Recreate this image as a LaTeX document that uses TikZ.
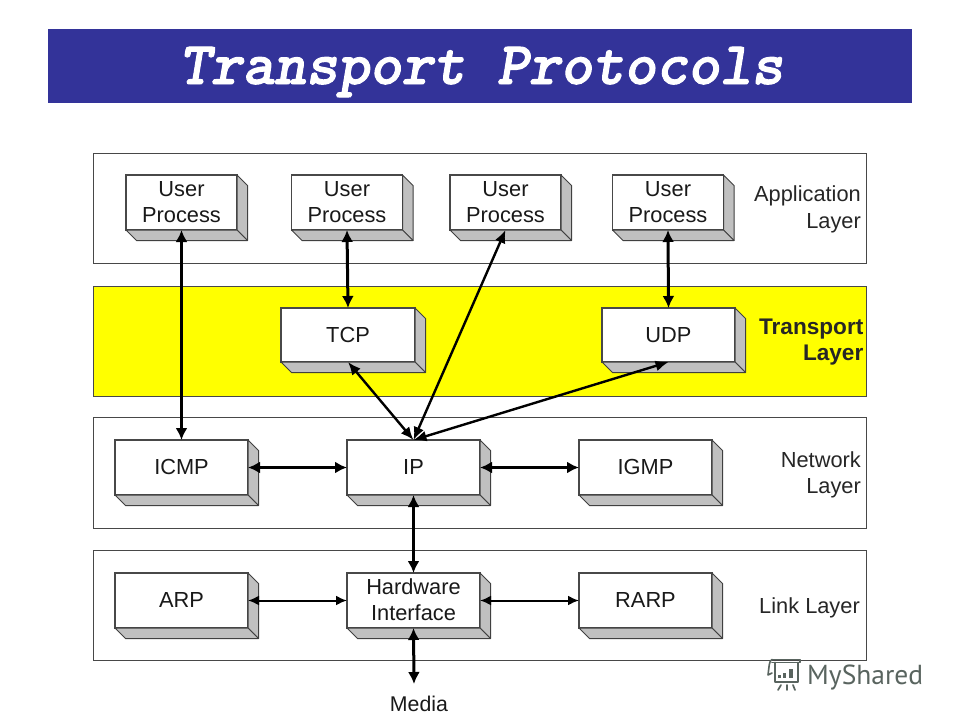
\documentclass[tikz,border=0pt]{standalone}
\usepackage{fontspec}
\setmainfont{Liberation Sans}
\newfontfamily\titlefont[FakeBold=1.6]{Latin Modern Mono Light}
\newfontfamily\brandfont{PT Sans}
\usetikzlibrary{arrows.meta}
\definecolor{titleblue}{HTML}{333399}
\definecolor{edgegray}{HTML}{484848}
\definecolor{sidegray}{HTML}{C0C0C0}
\definecolor{brandgray}{HTML}{59645F}
\definecolor{bandyellow}{HTML}{FFFF00}
\newcommand{\lifted}[1]{\raisebox{1pt}{#1}}
\tikzset{
  layerband/.style={draw=edgegray,line width=0.9pt,fill=white},
  frontface/.style={draw=edgegray,line width=1.2pt,fill=white,inner sep=0pt,outer sep=0pt,
    align=center,font=\fontsize{21.8}{26}\selectfont,text=black!90},
  sideface/.style={draw=black!75,line width=1pt,fill=sidegray,line join=round},
  layerlabel/.style={align=right,anchor=east,inner sep=0pt,font=\fontsize{21.8}{26.5}\selectfont,text=black!85},
  heavylink/.style={line width=3pt,black,{Latex[length=12pt,width=12pt]}-{Latex[length=12pt,width=12pt]}},
  midlink/.style={line width=2.4pt,black,{Latex[length=13pt,width=11pt]}-{Latex[length=13pt,width=11pt]}},
  lightlink/.style={line width=2pt,black,{Latex[length=11pt,width=10pt]}-{Latex[length=11pt,width=10pt]}},
}
% A block with raised right and bottom faces: name, centre x, centre y, width, height, text
\newcommand{\raisedblock}[6]{%
  \node[frontface,minimum width=#4pt,minimum height=#5pt] (#1) at (#2,#3) {#6};
  \draw[sideface] (#1.north east) -- ++(10.5,10.5) -- ([shift={(10.5,10.5)}]#1.south east) -- (#1.south east) -- cycle;
  \draw[sideface] (#1.south west) -- ++(10.5,10.5) -- ([shift={(10.5,10.5)}]#1.south east) -- (#1.south east) -- cycle;
}
\begin{document}
\begin{tikzpicture}[x=1pt,y=-1pt]
\useasboundingbox (0,0) rectangle (960,720);
\fill[white] (0,0) rectangle (960,720);

% Title bar
\fill[titleblue] (48,29) rectangle (912,103);
\node[anchor=base,inner sep=0pt,text=white,font=\titlefont\bfseries\slshape\fontsize{60.6}{66}\selectfont] (title) at (481,84) {Transport Protocols};

% Layer bands
\draw[layerband] (93,153) rectangle (866,263);
\draw[layerband,fill=bandyellow] (93,286) rectangle (866,396);
\draw[layerband] (93,417.5) rectangle (866,528);
\draw[layerband] (93,550) rectangle (866,660);

% Layer names
\node[layerlabel] (applabel) at (861,209.5) {Application\\Layer};
\node[layerlabel,font=\bfseries\fontsize{22.6}{26}\selectfont] (translabel) at (863.5,342) {Transport\\Layer};
\node[layerlabel] (netlabel) at (861,475) {Network\\Layer};
\node[layerlabel] (linklabel) at (860,607.5) {Link Layer};

% Application layer
\raisedblock{upa}{181.5}{202.5}{111}{55}{User\\Process}
\raisedblock{upb}{347}{202.5}{111}{55}{User\\Process}
\raisedblock{upc}{505.5}{202.5}{111}{55}{User\\Process}
\raisedblock{upd}{668}{202.5}{111}{55}{User\\Process}

% Transport layer
\raisedblock{tcp}{348}{335}{134}{54}{\lifted{TCP}}
\raisedblock{udp}{668.5}{335}{133}{54}{\lifted{UDP}}

% Network layer
\raisedblock{icmp}{181.5}{467.5}{133}{55}{\lifted{ICMP}}
\raisedblock{ip}{413.5}{467.5}{133}{55}{\lifted{IP}}
\raisedblock{igmp}{645.5}{467.5}{133}{55}{\lifted{IGMP}}

% Link layer
\raisedblock{arp}{181.5}{600.5}{133}{55}{\lifted{ARP}}
\raisedblock{hw}{413.5}{600.5}{133}{55}{\lifted{Hardware}\\\lifted{Interface}}
\raisedblock{rarp}{645.5}{600.5}{133}{55}{\lifted{RARP}}

% Media end point
\node[inner sep=0pt,font=\fontsize{21.3}{24}\selectfont,text=black!90] (media) at (419,704) {Media};
\coordinate (mediatip) at (414,684);

% Connectors
\draw[heavylink] (upa.south) -- (icmp.north);
\draw[heavylink] (upb.south) -- (tcp.north);
\draw[heavylink] (upd.south) -- (udp.north);
\draw[midlink] (upc.south) -- (ip.north);
\draw[midlink] (tcp.south) -- (ip.north);
\draw[midlink] (udp.south) -- (ip.north);
\draw[heavylink] (icmp.east) -- (ip.west);
\draw[heavylink] (ip.east) -- (igmp.west);
\draw[heavylink] (ip.south) -- (hw.north);
\draw[lightlink] (arp.east) -- (hw.west);
\draw[lightlink] (hw.east) -- (rarp.west);
\draw[heavylink] (hw.south) -- (mediatip);

% Presentation-board mark and wordmark
\begin{scope}[draw=brandgray,line cap=round,line join=round]
  \draw[line width=1.8pt] (772,659.5) -- (800,659.5) -- (800,662.5) -- (772,662.5);
  \draw[line width=1.6pt] (772,659.5) .. controls (769,660) and (769,668) .. (768,675) -- (772,673);
  \draw[line width=1.8pt] (775,662.5) -- (775,682) -- (798,682) -- (798,662.5);
  \fill[brandgray] (778,675) rectangle (781,678);
  \fill[brandgray] (783,673) rectangle (786,678);
  \fill[brandgray] (789,669) rectangle (793,678);
  \draw[line width=1.7pt] (781,685) -- (778,690);
  \draw[line width=1.7pt] (787,685) -- (787,690);
  \draw[line width=1.7pt] (793,685) -- (795,690);
\end{scope}
\node[anchor=base west,inner sep=0pt,text=brandgray,font=\brandfont\fontsize{27.5}{30}\selectfont] (brand) at (807,684) {MyShared};
\end{tikzpicture}
\end{document}
